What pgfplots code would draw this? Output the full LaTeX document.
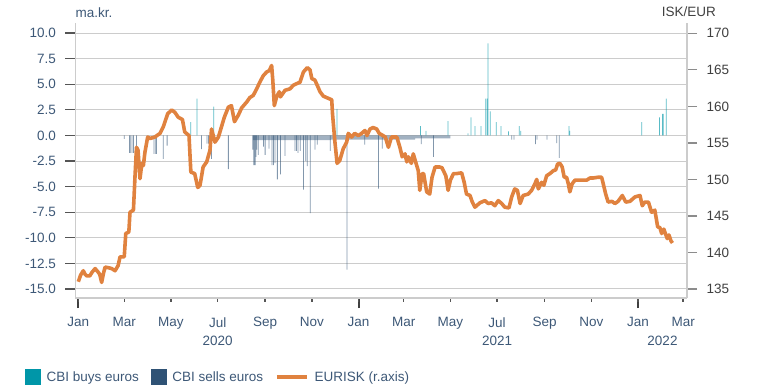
\documentclass[border=0pt]{standalone}
\usepackage{pgfplots}
\pgfplotsset{compat=1.18}
\usepackage{fontspec}
\setmainfont{Liberation Sans}

\definecolor{buycol}{HTML}{0096A8}
\definecolor{sellcol}{HTML}{2F5275}
\definecolor{linecol}{HTML}{E0823F}
\definecolor{labcol}{HTML}{3D5877}
\definecolor{rlabcol}{HTML}{404040}
\definecolor{gridcol}{HTML}{CCCCCC}
\definecolor{tickcol}{HTML}{555555}

\newcommand{\lbl}{\fontsize{13.5bp}{16bp}\selectfont}

% FX interventions of the Central Bank (ma.kr.), x = days since 1 Jan 2020
\pgfplotstableread{
day val
147 1.3
155 3.6
177 2.8
338 2.6
447 0.9
454 0.45
483 1.4
509 0.2
513 1.75
518 0.9
526 0.9
532 3.6
534 3.6
535 9.0
538 2.35
546 1.3
552 0.9
562 0.4
576 0.9
578 0.45
641 0.9
642 0.45
736 1.3
759 1.75
763 2.1
764 2.1
768 3.6
}\buys

\pgfplotstableread{
day val
60 -0.35
67 -1.7
68 -1.7
70 -1.7
72 -1.7
76 -1.1
99 -1.8
101 -1.8
102 -1.8
111 -2.3
116 -1.0
161 -1.35
168 -0.8
170 -0.8
172 -0.8
174 -2.3
196 -3.3
228 -1.4
229 -2.9
230 -2.9
231 -2.9
232 -2.1
233 -1.4
235 -1.9
242 -1.1
244 -1.9
249 -1.3
253 -2.9
255 -2.9
257 -2.7
260 -4.3
264 -3.8
270 -2.0
283 -1.5
285 -1.5
287 -1.7
290 -1.5
294 -5.3
297 -2.5
299 -3.0
303 -7.6
309 -1.4
312 -0.9
329 -1.5
351 -13.1
374 -0.9
392 -5.2
397 -1.3
448 -0.85
464 -2.1
566 -0.4
569 -0.4
597 -0.85
599 -0.4
612 -0.4
625 -0.75
628 -2.2
}\sells

% EUR/ISK exchange rate
\pgfplotstableread{
day rate
0 136.0
3 136.9
6.5 137.5
9 137.0
11 136.8
15 136.8
18 137.3
22 137.8
26 137.3
28 137.0
30.5 135.9
33 137.2
35 138.0
40 137.9
43.6 137.8
48 137.5
52 138.2
54.5 139.4
60 139.4
62 142.6
66 142.8
67.5 145.5
72 145.8
74 150.3
76 154.4
78 154.0
80.6 150.1
83 152.2
85 151.9
87 153.7
90.6 155.8
93.6 155.6
100 155.8
106.7 156.3
111 157.2
116.8 159.0
122 159.5
126 159.2
130.6 158.5
136 158.2
139 156.5
144.6 156.0
147 151.0
152 150.8
156 148.9
159 149.2
163 151.7
167.7 152.4
172 154.0
174 156.9
178.5 155.1
183 155.8
187 157.2
190.7 158.5
196 159.9
200 160.1
204 157.9
209 158.8
213.4 159.8
220 160.6
224 161.2
228.5 161.5
233 162.4
237 163.3
241.6 164.2
246 164.7
249.5 164.9
252.5 165.6
254 163.6
256 160.1
259 161.3
262.5 162.0
264 161.3
270 162.2
276.5 162.4
281 162.9
285 163.1
289.5 163.3
294 164.7
299 165.3
302.6 165.0
305 163.8
309 163.6
312 162.9
315.7 162.0
320 161.4
326.5 161.1
331 160.9
332 159.0
335 155.3
338 152.2
341.5 152.6
346 154.2
350.5 155.1
352.6 156.3
357 155.8
361 156.3
365.7 156.0
370 156.3
374.4 156.7
377 156.0
381 156.9
385 157.1
389.7 156.9
393 156.3
398 156.0
401 155.8
405 154.4
409 155.8
416 155.8
420 154.4
423 153.1
426.7 153.5
429 152.4
431 153.1
435 152.2
437.5 153.5
440 152.6
444 151.2
446 148.5
449 150.8
451 150.8
455 148.3
459 148.0
462 150.3
466 151.7
472 151.7
475 151.6
480 150.5
483 148.5
486 149.9
490 150.8
494 150.8
500.7 150.9
504 149.6
507 148.0
511.6 147.8
514.6 146.9
518 146.2
524.6 146.8
531 147.1
535.5 146.7
539.6 146.8
544 146.4
548.5 147.1
553 146.7
557 146.2
562.5 146.1
566 147.6
570 148.7
573.5 148.5
577 146.7
581 147.8
587.7 148.0
592 148.5
596.4 149.4
598.7 150.0
600.8 148.7
605 149.6
608 149.2
611.7 150.5
616 150.8
620.5 151.2
623.5 151.3
626 152.1
629 152.2
632 151.7
634.6 150.3
637.7 150.3
640 149.4
642 148.3
645 149.4
648.7 149.9
657.4 149.9
664 149.9
668.4 150.2
672.8 150.2
679 150.3
683.5 150.3
685.6 149.4
688.8 148.0
692 146.9
697 147.0
700.8 146.7
705 147.0
710.5 147.8
715 146.9
720.5 147.0
727 147.6
733.6 147.8
736.6 146.4
740 146.9
744.6 146.9
748.8 145.5
753 145.8
756.7 143.5
759.6 143.4
761.9 142.6
764.7 143.2
769.2 141.9
771.4 142.4
774 141.6
776 141.3
}\eurisk

\pgfplotsset{
  common/.style={
    scale only axis, width=611.5bp, height=275bp,
    at={(0,0)}, anchor=south west,
    xmin=-3.66, xmax=795,
    tick align=outside,
    /pgf/number format/assume math mode=true,
    ticklabel style={font=\lbl},
  },
}

\begin{document}
\begin{tikzpicture}
\path[use as bounding box] (-75.5bp,-89bp) rectangle (688.5bp,298bp);

% left axis: interventions, grid, January ticks
\begin{axis}[common,
  ymin=-15.88, ymax=10.98,
  axis x line*=bottom, axis y line*=left,
  axis line style={gridcol, line width=1.4bp},
  ytick={-15,-12.5,...,10},
  yticklabels={\mbox{-15.0},\mbox{-12.5},\mbox{-10.0},\mbox{-7.5},\mbox{-5.0},\mbox{-2.5},\mbox{0.0},\mbox{2.5},\mbox{5.0},\mbox{7.5},\mbox{10.0}},
  yticklabel style={text=labcol, anchor=east, xshift=-6bp},
  ymajorgrids, major grid style={gridcol, line width=1bp},
  ytick style={draw=tickcol, line width=1.3bp},
  xtick={0,366,731}, xticklabels={},
  xtick style={draw=black!75, line width=2bp},
  major tick length=10bp,
]
% many small daily sales through winter 2020/21
\addplot[fill=sellcol, fill opacity=0.45, draw=none, const plot]
  coordinates {(228,0) (228,-0.45) (330,-0.45) (330,-0.4) (440,-0.4) (440,-0.3) (486,-0.3) (486,0)} \closedcycle;
\addplot[ybar, bar width=1, bar shift=0pt, fill=sellcol, fill opacity=0.6, draw=none]
  table[x=day, y=val] {\sells};
\addplot[ybar, bar width=1, bar shift=0pt, fill=buycol, fill opacity=0.65, draw=none]
  table[x=day, y=val] {\buys};
\end{axis}

% month ticks and labels, unit labels
\begin{axis}[common,
  ymin=0, ymax=1, clip=false,
  axis x line*=bottom, axis y line=none,
  axis line style={gridcol, line width=1.4bp},
  xtick={0,60,121,182,244,305,366,425,486,547,609,670,731,790},
  xticklabels={\mbox{Jan},\mbox{Mar},\mbox{May},\mbox{Jul},\mbox{Sep},\mbox{Nov},\mbox{Jan},\mbox{Mar},\mbox{May},\mbox{Jul},\mbox{Sep},\mbox{Nov},\mbox{Jan},\mbox{Mar}},
  xticklabel style={text=labcol, yshift=-12bp},
  xtick style={draw=tickcol, line width=1.4bp},
  major tick length=4bp,
]
\node[font=\lbl, text=labcol] at (axis cs:182,0) [yshift=-43bp] {2020};
\node[font=\lbl, text=labcol] at (axis cs:547,0) [yshift=-43bp] {2021};
\node[font=\lbl, text=labcol] at (axis cs:763,0) [yshift=-43bp] {2022};
\node[font=\lbl, text=labcol, anchor=west, inner sep=0pt] at (axis description cs:0,1) [yshift=10.5bp] {ma.kr.};
\node[font=\lbl, text=rlabcol, anchor=east, inner sep=0pt] at (axis description cs:1,1) [xshift=29bp, yshift=11bp] {ISK/EUR};
\end{axis}

% right axis: exchange rate
\begin{axis}[common,
  ymin=133.77, ymax=171.41,
  axis x line=none, axis y line*=right,
  axis line style={gridcol, line width=1.4bp},
  ytick={135,140,...,170},
  yticklabels={\mbox{135},\mbox{140},\mbox{145},\mbox{150},\mbox{155},\mbox{160},\mbox{165},\mbox{170}},
  yticklabel style={text=rlabcol, anchor=west, xshift=6bp},
  ytick style={draw=black!45, line width=1.3bp},
  major tick length=10bp,
  legend style={at={(axis description cs:-0.0826,-0.287)}, anchor=west,
    draw=none, fill=none, font=\lbl, text=labcol, inner sep=0pt,
    legend columns=3,
    /tikz/every odd column/.append style={column sep=4bp},
    /tikz/every even column/.append style={column sep=10bp}},
  legend cell align=left,
]
\addplot[linecol, line width=3.6bp, line join=round, forget plot]
  table[x=day, y=rate] {\eurisk};
\addlegendimage{legend image code/.code={\fill[buycol] (0bp,-7.5bp) rectangle (15bp,7.5bp);}}
\addlegendentry{CBI buys euros}
\addlegendimage{legend image code/.code={\fill[sellcol] (0bp,-7.5bp) rectangle (15bp,7.5bp);}}
\addlegendentry{CBI sells euros}
\addlegendimage{legend image code/.code={\draw[linecol, line width=3.6bp] (0bp,0bp) -- (30bp,0bp);}}
\addlegendentry{EURISK (r.axis)}
\end{axis}
\end{tikzpicture}
\end{document}
